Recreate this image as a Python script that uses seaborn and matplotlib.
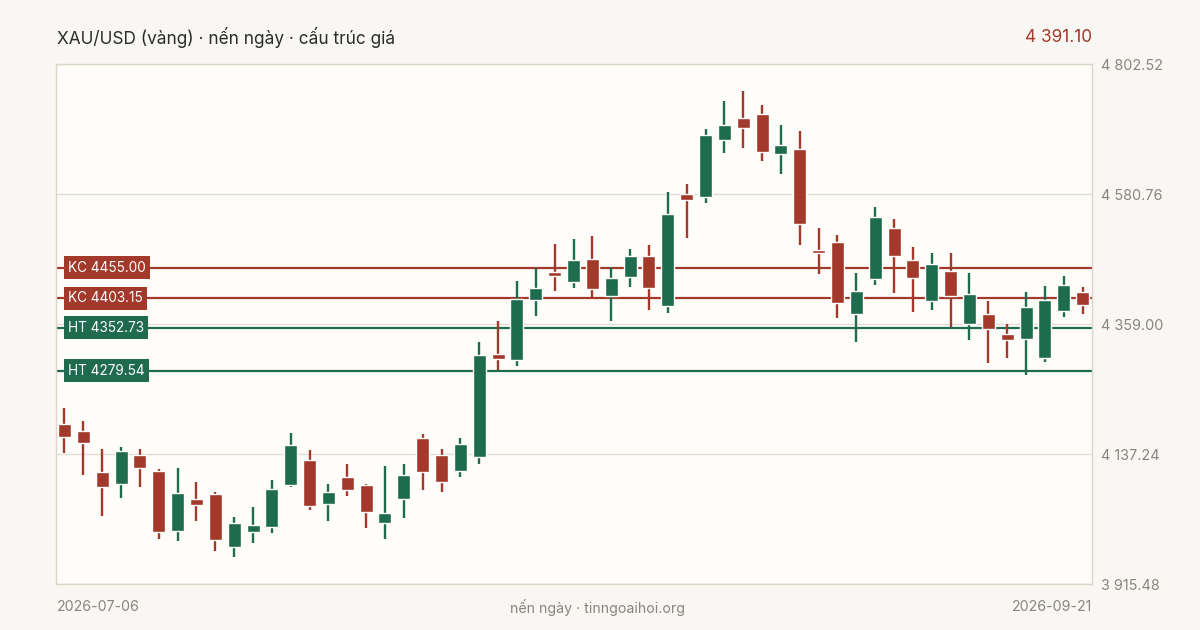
import numpy as np
import pandas as pd
import matplotlib
matplotlib.use("Agg")
import matplotlib.pyplot as plt
import seaborn as sns

# Daily candles (index 0 = 2026-07-06, last = 2026-09-21)
opens = [4188.9, 4176.4, 4106.5, 4086.5, 4135.5, 4108.2, 4006.4, 4060.4, 4069.0, 3979.1,
         4004.7, 4013.2, 4084.8, 4127.0, 4052.4, 4098.0, 4084.3, 4020.0, 4060.9, 4164.5,
         4135.5, 4108.7, 4132.6, 4307.8, 4298.1, 4400.4, 4448.2, 4429.8, 4469.8, 4407.2,
         4439.7, 4475.0, 4390.2, 4580.7, 4576.1, 4673.4, 4710.4, 4717.2, 4649.5, 4657.5,
         4485.2, 4498.8, 4376.5, 4436.2, 4522.7, 4468.1, 4398.7, 4449.4, 4359.5, 4376.0,
         4341.9, 4333.9, 4301.5, 4381.7, 4413.6]
highs = [4215.7, 4193.5, 4145.7, 4149.1, 4145.7, 4111.6, 4113.3, 4089.4, 4072.4, 4029.7,
         4046.8, 4092.8, 4173.0, 4144.0, 4086.0, 4120.1, 4086.0, 4116.7, 4120.1, 4171.3,
         4145.7, 4164.5, 4328.3, 4364.1, 4432.3, 4454.5, 4495.4, 4504.0, 4509.6, 4455.7,
         4486.9, 4494.2, 4584.1, 4597.8, 4691.6, 4739.4, 4756.4, 4732.6, 4698.4, 4688.2,
         4522.7, 4510.8, 4446.0, 4558.6, 4538.1, 4490.3, 4480.1, 4480.1, 4446.0, 4398.2,
         4359.0, 4413.6, 4423.8, 4440.8, 4422.1]
lows = [4139.4, 4101.4, 4031.9, 4062.6, 4081.4, 3992.7, 3989.3, 4023.4, 3972.3, 3962.0,
        3985.9, 4002.9, 4081.4, 4042.2, 4023.4, 4066.1, 4011.5, 3992.7, 4028.5, 4076.3,
        4072.9, 4098.5, 4120.7, 4281.0, 4287.8, 4373.1, 4415.8, 4420.9, 4402.8, 4364.6,
        4422.6, 4383.4, 4378.2, 4506.2, 4565.9, 4651.2, 4659.7, 4637.5, 4615.4, 4494.2,
        4444.8, 4369.7, 4328.8, 4426.0, 4412.4, 4379.9, 4383.4, 4354.4, 4332.2, 4292.9,
        4301.5, 4272.5, 4294.7, 4371.4, 4376.5]
closes = [4166.7, 4156.5, 4081.4, 4142.3, 4113.8, 4004.7, 4070.7, 4050.7, 3991.0, 4019.5,
          4016.1, 4077.5, 4152.6, 4049.0, 4072.4, 4076.3, 4038.8, 4036.5, 4101.4, 4107.0,
          4089.9, 4154.3, 4306.1, 4299.8, 4401.1, 4420.4, 4441.4, 4468.1, 4418.7, 4437.4,
          4475.0, 4420.9, 4546.6, 4571.0, 4681.4, 4698.4, 4693.8, 4652.9, 4664.3, 4530.1,
          4480.6, 4395.3, 4415.3, 4541.5, 4475.5, 4437.9, 4461.3, 4407.2, 4410.1, 4351.0,
          4332.2, 4388.0, 4399.9, 4425.5, 4391.10]

# Resistance (KC) / support (HT) levels
level_names = ["KC", "KC", "HT", "HT"]
level_values = [4455.00, 4403.15, 4352.73, 4279.54]

y_min, y_max = 3915.48, 4802.52
first_date, last_date = "2026-07-06", "2026-09-21"

RED = "#a3392a"
GREEN = "#1e6b4f"
GRAY = "#8a857d"

df = pd.DataFrame({"open": opens, "high": highs, "low": lows, "close": closes})
df["i"] = np.arange(len(df))
df["up"] = df["close"] >= df["open"]
df["color"] = np.where(df["up"], GREEN, RED)

sns.set_theme(style="white")
plt.rcParams["font.family"] = ["Inter", "DejaVu Sans"]

fig = plt.figure(figsize=(12, 6.3), dpi=100, facecolor="#f8f7f3")
ax = fig.add_axes([56 / 1200, 1 - 584 / 630, 1036 / 1200, 520 / 630])
ax.set_facecolor("#fefdfa")

# gridlines at the ticks
ticks = np.linspace(y_min, y_max, 5)
for t in ticks:
    ax.axhline(t, color="#e2ded2", lw=1, zorder=0)

# level lines and tags
for name, val in zip(level_names, level_values):
    col = RED if name == "KC" else GREEN
    ax.axhline(val, color=col, lw=1.6, zorder=1)
    ax.text(12 / 1036, val, f"{name} {val:.2f}", transform=ax.get_yaxis_transform(),
            ha="left", va="center", color="white", fontsize=9.8, zorder=5,
            bbox=dict(boxstyle="square,pad=0.33", fc=col, ec="none"))

# candles
ax.vlines(df["i"], df["low"], df["high"], colors=df["color"], lw=1.7, zorder=2)
body_lo = df[["open", "close"]].min(axis=1)
body_h = (df["close"] - df["open"]).abs().clip(lower=1.5)
ax.bar(df["i"], body_h, bottom=body_lo, width=0.69, color=df["color"], zorder=3)

ax.set_xlim(-0.45, len(df) - 0.5)
ax.set_ylim(y_min, y_max)
ax.set_xticks([])
ax.yaxis.tick_right()
ax.set_yticks(ticks)
ax.set_yticklabels([f"{t:,.2f}".replace(",", " ") for t in ticks])
ax.tick_params(axis="y", length=0, pad=6.5, labelsize=10.4, labelcolor=GRAY)
for s in ax.spines.values():
    s.set_color("#ddd6c8")
    s.set_linewidth(1)

# header and footer
fig.text(57 / 1200, 1 - 37 / 630, "XAU/USD (vàng) · nến ngày · cấu trúc giá",
         ha="left", va="center", fontsize=12.4, color="#2b2b2b")
fig.text(1092 / 1200, 1 - 37 / 630, f"{closes[-1]:,.2f}".replace(",", " "),
         ha="right", va="center", fontsize=12.4, color=RED)
fig.text(57 / 1200, 1 - 607 / 630, first_date, ha="left", va="center",
         fontsize=10.2, color=GRAY)
fig.text(597 / 1200, 1 - 607 / 630, "nến ngày · tinngoaihoi.org", ha="center",
         va="center", fontsize=10.2, color=GRAY)
fig.text(1092 / 1200, 1 - 607 / 630, last_date, ha="right", va="center",
         fontsize=10.2, color=GRAY)

fig.savefig("out.png", dpi=100, facecolor=fig.get_facecolor())
